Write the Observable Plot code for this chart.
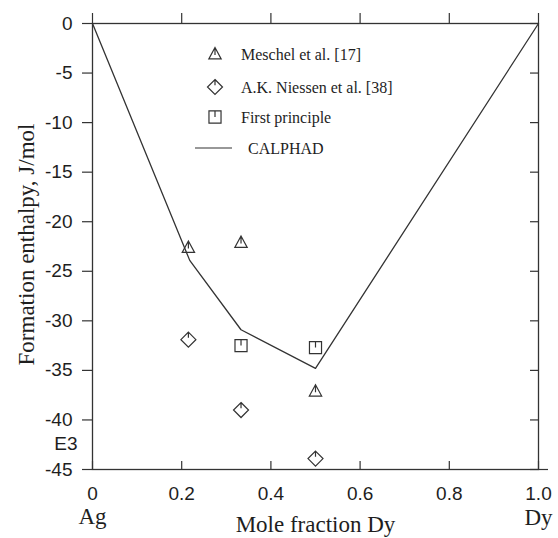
<!DOCTYPE html>
<html><head><meta charset="utf-8">
<script src="https://cdn.jsdelivr.net/npm/d3@7"></script>
<script src="https://cdn.jsdelivr.net/npm/@observablehq/plot@0.6"></script>
<style>html,body{margin:0;padding:0;background:#fff} #chart svg{display:block}</style>
</head><body><div id="chart"></div>
<script>
// ---- data ----
const xTicks = [0, 0.2, 0.4, 0.6, 0.8, 1.0];
const xTickLabels = ["0", "0.2", "0.4", "0.6", "0.8", "1.0"];
const yTicks = [0, -5, -10, -15, -20, -25, -30, -35, -40, -45];
const meschelX = [0.215, 0.333, 0.5];
const meschelY = [-22.6, -22.1, -37.1];
const niessenX = [0.215, 0.333, 0.5];
const niessenY = [-31.9, -39.0, -43.9];
const firstX = [0.333, 0.5];
const firstY = [-32.5, -32.7];
const calphadX = [0, 0.218, 0.333, 0.5, 1.0];
const calphadY = [0, -23.9, -30.9, -34.8, 0];
const legendLabels = ["Meschel et al. [17]", "A.K. Niessen et al. [38]", "First principle", "CALPHAD"];
const xLabel = "Mole fraction Dy";
const yLabel = "Formation enthalpy, J/mol";
const leftEnd = "Ag", rightEnd = "Dy", yExp = "E3";

// ---- layout ----
const W = 558, H = 538, mL = 92, mR = 20, mT = 23, mB = 69;
const fw = W - mL - mR, fh = H - mT - mB;
const ink = "#333";
const serif = "'Liberation Serif', 'Times New Roman', serif";
const sans = "'Liberation Sans', Arial, sans-serif";

// custom symbols with the small inner tick
const triTick = {draw(c, size) { const r = Math.sqrt(size / Math.PI);
  c.moveTo(0, -r); c.lineTo(r * 0.95, r * 0.75); c.lineTo(-r * 0.95, r * 0.75); c.closePath();
  c.moveTo(0, -r); c.lineTo(0, r * 0.15); }};
const diaTick = {draw(c, size) { const r = Math.sqrt(size / Math.PI);
  c.moveTo(0, -r); c.lineTo(r, 0); c.lineTo(0, r); c.lineTo(-r, 0); c.closePath();
  c.moveTo(0, -r); c.lineTo(0, -r * 0.25); }};
const sqTick = {draw(c, size) { const r = Math.sqrt(size / Math.PI) * 0.9;
  c.moveTo(-r, -r); c.lineTo(r, -r); c.lineTo(r, r); c.lineTo(-r, r); c.closePath();
  c.moveTo(0, -r); c.lineTo(0, 0); }};

const pts = (xs, ys) => xs.map((x, i) => ({x, y: ys[i]}));
const symStyle = {x: "x", y: "y", stroke: ink, strokeWidth: 1.2, fill: "none"};

const chart = Plot.plot({
  width: W, height: H,
  marginLeft: mL, marginRight: mR, marginTop: mT, marginBottom: mB,
  x: {domain: [0, 1]},
  y: {domain: [-45, 0]},
  style: {fontFamily: sans, fontSize: "19px", color: "#1e1e1e", background: "#fff"},
  marks: [
    Plot.frame({stroke: ink, strokeWidth: 1.3}),
    Plot.axisY({ticks: yTicks, anchor: "left", tickSize: 10, tickPadding: 10, strokeWidth: 1.2, stroke: ink,
      tickFormat: d => String(d), label: null}),
    Plot.tickY(yTicks, {y: d => d, insetLeft: fw - 8, stroke: ink, strokeWidth: 1.2}),
    Plot.tickY(yTicks.slice(-1), {y: d => d, insetLeft: fw, insetRight: -10, stroke: ink, strokeWidth: 1.2}),
    Plot.tickX(xTicks, {x: d => d, insetTop: -10, insetBottom: fh, stroke: ink, strokeWidth: 1.2}),
    Plot.tickX(xTicks, {x: d => d, insetTop: fh - 8, stroke: ink, strokeWidth: 1.2}),
    Plot.axisX({ticks: xTicks, anchor: "bottom", tickSize: 0, tickPadding: 17,
      tickFormat: d => xTickLabels[xTicks.indexOf(d)], label: null}),
    Plot.line(pts(calphadX, calphadY), {x: "x", y: "y", stroke: ink, strokeWidth: 1.3}),
    Plot.dot(pts(meschelX, meschelY), {...symStyle, symbol: triTick, r: 6.5}),
    Plot.dot(pts(niessenX, niessenY), {...symStyle, symbol: diaTick, r: 7.5}),
    Plot.dot(pts(firstX, firstY), {...symStyle, symbol: sqTick, r: 6.7}),
    Plot.text([yExp], {frameAnchor: "bottom-left", dx: -15, dy: -25.5, textAnchor: "end", lineAnchor: "middle",
      fontFamily: sans, fontSize: 19}),
    Plot.text([leftEnd], {frameAnchor: "bottom-left", dy: 47.5, textAnchor: "middle", lineAnchor: "middle",
      fontFamily: serif, fontSize: 23}),
    Plot.text([rightEnd], {frameAnchor: "bottom-right", dy: 48.5, textAnchor: "middle", lineAnchor: "middle",
      fontFamily: serif, fontSize: 23}),
    Plot.text([xLabel], {frameAnchor: "bottom", dy: 55.5, textAnchor: "middle", lineAnchor: "middle",
      fontFamily: serif, fontSize: 23}),
    Plot.text([yLabel], {frameAnchor: "left", dx: -66, dy: -2, rotate: -90, textAnchor: "middle", lineAnchor: "middle",
      fontFamily: serif, fontSize: 23})
  ]
});
document.getElementById("chart").appendChild(chart);

// ---- legend (inside the plot, drawn with d3) ----
const svg = d3.select(chart);
const lg = svg.append("g").attr("class", "legend").attr("text-anchor", "start");
const symbols = [[triTick, 6.5], [diaTick, 7.5], [sqTick, 6.7], null];
const rowY = [31, 64, 94, 125];
legendLabels.forEach((lab, i) => {
  const cy = mT + rowY[i], cx = mL + 123;
  if (symbols[i]) {
    const [sym, r] = symbols[i];
    const p = d3.path(); sym.draw(p, Math.PI * r * r);
    lg.append("path").attr("d", p.toString()).attr("transform", `translate(${cx},${cy})`)
      .attr("fill", "none").attr("stroke", ink).attr("stroke-width", 1.2);
  } else {
    lg.append("line").attr("x1", mL + 103).attr("x2", mL + 140).attr("y1", cy).attr("y2", cy)
      .attr("stroke", ink).attr("stroke-width", 1.2);
  }
  lg.append("text").attr("x", mL + (symbols[i] ? 149 : 156)).attr("y", cy).attr("dy", "0.35em")
    .attr("text-anchor", "start")
    .attr("font-family", serif).attr("font-size", 16).attr("fill", "#1e1e1e").text(lab);
});
</script></body></html>
